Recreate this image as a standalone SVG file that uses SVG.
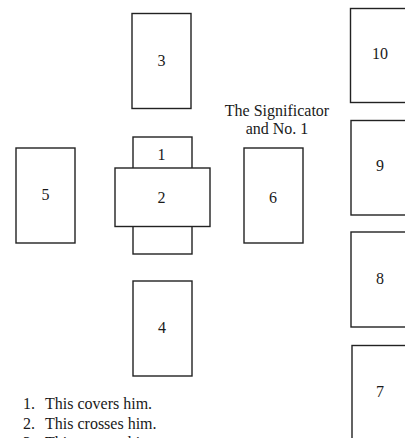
<svg xmlns="http://www.w3.org/2000/svg" width="405" height="438" viewBox="0 0 405 438">
<style>
.card{fill:#fff;stroke:#222;stroke-width:1.4}
text{font-family:"Liberation Serif","Times New Roman",serif;font-size:16px;fill:#1a1a1a}
.c{text-anchor:middle}
</style>
<rect width="405" height="438" fill="#fff"/>
<g id="connectors"></g>
<g id="card3"><rect class="card" x="132" y="13.5" width="59" height="95"/><text class="c" x="161.5" y="66">3</text></g>
<g id="card10"><rect class="card" x="350.5" y="8.5" width="60" height="94"/><text class="c" x="380" y="59">10</text></g>
<g id="signif-label"><text class="c" x="277" y="116">The Significator</text><text class="c" x="277" y="133.5">and No. 1</text></g>
<g id="card9"><rect class="card" x="351" y="120.5" width="60" height="94.5"/><text class="c" x="380" y="171">9</text></g>
<g id="card1"><rect class="card" x="133" y="137" width="59" height="117"/><text class="c" x="161.5" y="160">1</text></g>
<g id="card2"><rect class="card" x="115" y="168" width="95" height="58.5"/><text class="c" x="161.5" y="203">2</text></g>
<g id="card5"><rect class="card" x="16" y="148" width="59" height="95"/><text class="c" x="45.5" y="200">5</text></g>
<g id="card6"><rect class="card" x="244" y="148" width="59" height="95"/><text class="c" x="273" y="203">6</text></g>
<g id="card8"><rect class="card" x="351" y="232" width="60" height="95"/><text class="c" x="380" y="284">8</text></g>
<g id="card4"><rect class="card" x="133" y="281" width="59" height="95"/><text class="c" x="162" y="333">4</text></g>
<g id="card7"><rect class="card" x="352" y="345.5" width="60" height="100"/><text class="c" x="380" y="397">7</text></g>
<g id="legend">
<text x="23" y="409">1.</text><text x="45" y="409">This covers him.</text>
<text x="23" y="428.5">2.</text><text x="45" y="428.5">This crosses him.</text>
<text x="23" y="448">3.</text><text x="45" y="448">This crowns him.</text>
</g>
</svg>
